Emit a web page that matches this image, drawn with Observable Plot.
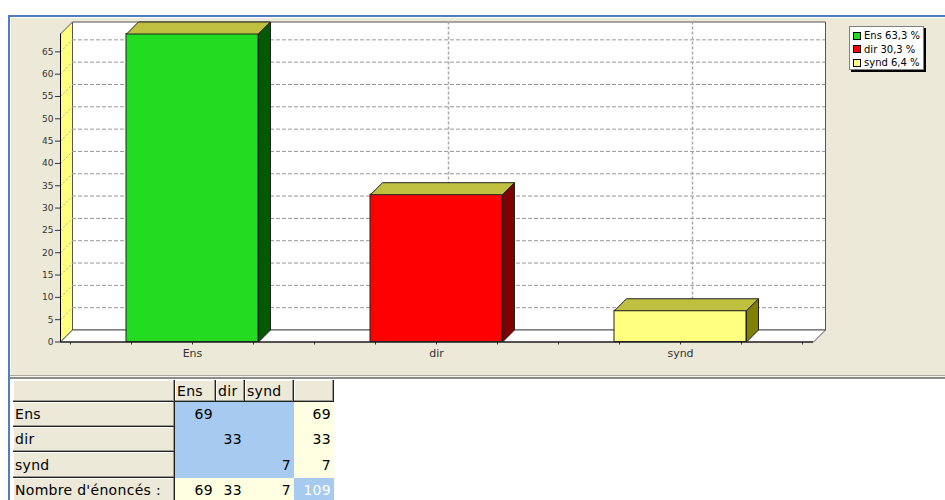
<!DOCTYPE html>
<html><head><meta charset="utf-8">
<script src="https://cdn.jsdelivr.net/npm/d3@7"></script>
<script src="https://cdn.jsdelivr.net/npm/@observablehq/plot@0.6"></script>
<style>
body{margin:0;background:#fff;}
#wrap{position:relative;width:945px;height:500px;overflow:hidden;font-family:"DejaVu Sans",sans-serif;}
.abs{position:absolute;box-sizing:border-box;}
.cell{position:absolute;box-sizing:border-box;font-size:14px;letter-spacing:0.3px;white-space:nowrap;color:#000;}
</style></head><body>
<div id="wrap">
  <div class="abs" style="left:10px;top:17px;width:935px;height:358px;background:#ECE9D8;"></div>
  <div class="abs" style="left:10px;top:17px;width:935px;height:1px;background:#fff"></div>
  <div class="abs" style="left:10px;top:17px;width:1px;height:358px;background:#fff"></div>
  <div id="chart" class="abs" style="left:0;top:0"></div>
  <div class="abs" style="left:8px;top:15px;width:937px;height:2px;background:#4F7FC0"></div>
  <div class="abs" style="left:8px;top:15px;width:2px;height:485px;background:#4F7FC0"></div>
  <div class="abs" style="left:10px;top:375px;width:935px;height:1px;background:#A8A8A0"></div>
  <div class="abs" style="left:10px;top:376px;width:935px;height:1px;background:#F4F3EC"></div>
  <div class="abs" style="left:10px;top:377px;width:935px;height:2px;background:#8C8C88"></div>
  <div id="legend" class="abs" style="left:849px;top:26px;width:75px;height:44px;background:#fff;border:1px solid #808080;box-shadow:2px 2px 0 #000;padding-top:2px;"></div>
  <div id="table" class="abs" style="left:0;top:0;width:945px;height:500px;"></div>
</div>
<script>
// ---- data ----
const categories = ["Ens", "dir", "synd"];
const counts = [69, 33, 7];
const frontColors = ["#22DC22", "#FF0000", "#FFFF80"];
const sideColors = ["#005A00", "#7F0000", "#808000"];
const topColor = "#C0C040";
const yTicks = [0, 5, 10, 15, 20, 25, 30, 35, 40, 45, 50, 55, 60, 65];
const totalLabel = "Nombre d'énoncés :";

// ---- layout (pixels) ----
const L = {width: 945, height: 375, left: 60, right: 813, c0: 192, step: 244, base: 341.5, top: 33.5, depth: 12, barHalf: 66};
const yMax = d3.max(counts);
const xLo = (L.left - L.c0) / L.step, xHi = (L.right - L.c0) / L.step;
const ky = (L.base - L.top) / yMax;
const ddx = L.depth / L.step, ddy = L.depth / ky;
const half = L.barHalf / L.step;

const shape = (pts, fill, stroke = "#222") =>
  Plot.line(pts.map(([x, y]) => ({x, y})), {x: "x", y: "y", curve: "linear-closed", fill, stroke, strokeWidth: 1, strokeLinejoin: "miter", strokeLinecap: "butt"});

const gridVals = yTicks.filter(d => d > 0);
const marks = [
  shape([[xLo + ddx, ddy], [xHi + ddx, ddy], [xHi + ddx, yMax + ddy], [xLo + ddx, yMax + ddy]], "#fff", "#555"),
  shape([[xLo, 0], [xLo, yMax], [xLo + ddx, yMax + ddy], [xLo + ddx, ddy]], "#FFFF80", "#555"),
  shape([[xLo, 0], [xHi, 0], [xHi + ddx, ddy], [xLo + ddx, ddy]], "#fff", "#555"),
  Plot.ruleY(gridVals, {x1: () => xLo, x2: () => xHi, dx: L.depth, dy: -L.depth, stroke: "#999", strokeDasharray: "4,2"}),
  Plot.link(gridVals, {x1: () => xLo, y1: d => d, x2: () => xLo + ddx, y2: d => d + ddy, stroke: "#aaa", strokeDasharray: "2,2"}),
  Plot.ruleX(d3.range(categories.length), {y1: () => 0, y2: () => yMax, dx: L.depth, dy: -L.depth, stroke: "#aaa", strokeWidth: 1.5, strokeDasharray: "3,2"}),
  Plot.ruleX([xLo], {y1: () => 0, y2: () => yMax, stroke: "#000"}),
  Plot.ruleY([0], {x1: () => xLo, x2: () => xHi, stroke: "#000"})
];
categories.forEach((c, i) => {
  const v = counts[i], a = i - half, b = i + half;
  marks.push(Plot.rect([{c, v}], {x1: () => a, x2: () => b, y1: () => 0, y2: "v", fill: frontColors[i], stroke: "#222", strokeWidth: 1}));
  marks.push(shape([[a, v], [b, v], [b + ddx, v + ddy], [a + ddx, v + ddy]], topColor));
  marks.push(shape([[b, 0], [b, v], [b + ddx, v + ddy], [b + ddx, ddy]], sideColors[i]));
});

const chart = Plot.plot({
  width: L.width, height: L.height,
  marginLeft: L.left, marginRight: L.width - L.right, marginTop: L.top, marginBottom: L.height - L.base,
  style: {background: "transparent", fontFamily: "DejaVu Sans", fontSize: "9px", color: "#333", overflow: "visible"},
  x: {type: "linear", domain: [xLo, xHi], ticks: d3.range(-0.5, categories.length - 0.5 + 0.01, 0.25),
      tickFormat: d => Number.isInteger(d) ? categories[d] : "", tickSize: 3, tickPadding: 4, label: null},
  y: {domain: [0, yMax], ticks: yTicks, tickSize: 5, tickPadding: 2, label: null},
  marks
});
d3.select(chart).selectAll('[aria-label^="x-axis"] text').attr("font-size", "11px");
document.getElementById("chart").appendChild(chart);

// ---- legend ----
const total = d3.sum(counts);
const leg = document.getElementById("legend");
categories.forEach((c, i) => {
  const row = document.createElement("div");
  row.style.cssText = "display:flex;align-items:center;height:13.5px;padding-left:3px;font-size:10px;color:#000;";
  const sw = document.createElement("span");
  sw.style.cssText = `display:inline-block;width:8px;height:8px;box-sizing:border-box;border:1px solid #000;background:${frontColors[i]};margin-right:3px;`;
  const tx = document.createElement("span");
  tx.textContent = `${c} ${(counts[i] / total * 100).toFixed(1).replace(".", ",")} %`;
  row.append(sw, tx);
  leg.appendChild(row);
});

// ---- table ----
const colX = [13, 175, 216, 245, 294, 334];
const rowY = [380, 402, 427, 452, 478, 503];
const tbl = document.getElementById("table");
const beige = "#ECE9D8", blue = "#A6CAF0", yellow = "#FFFFE1";
function cell(r, c, text, bg, align, extra = "") {
  const d = document.createElement("div");
  d.className = "cell";
  const w = colX[c + 1] - colX[c], h = rowY[r + 1] - rowY[r];
  d.style.cssText += `left:${colX[c]}px;top:${rowY[r]}px;width:${w}px;height:${h}px;line-height:${h}px;background:${bg};text-align:${align};padding:0 3px 0 2px;${extra}`;
  d.textContent = text;
  tbl.appendChild(d);
}
const bevel = "box-shadow:inset -1px -1px 0 #222, inset -2px -2px 0 #9a9a90, inset 1px 1px 0 #fff;";
cell(0, 0, "", beige, "left", bevel);
categories.forEach((c, j) => cell(0, j + 1, c, beige, "left", bevel));
cell(0, 4, "", beige, "left", bevel);
categories.forEach((c, i) => {
  cell(i + 1, 0, c, beige, "left", bevel);
  categories.forEach((_, j) => cell(i + 1, j + 1, i === j ? String(counts[i]) : "", blue, "right"));
  cell(i + 1, 4, String(counts[i]), yellow, "right");
});
cell(4, 0, totalLabel, beige, "left", bevel);
categories.forEach((_, j) => cell(4, j + 1, String(counts[j]), yellow, "right"));
cell(4, 4, String(total), blue, "right", "color:#fff;");
</script>
</body></html>
